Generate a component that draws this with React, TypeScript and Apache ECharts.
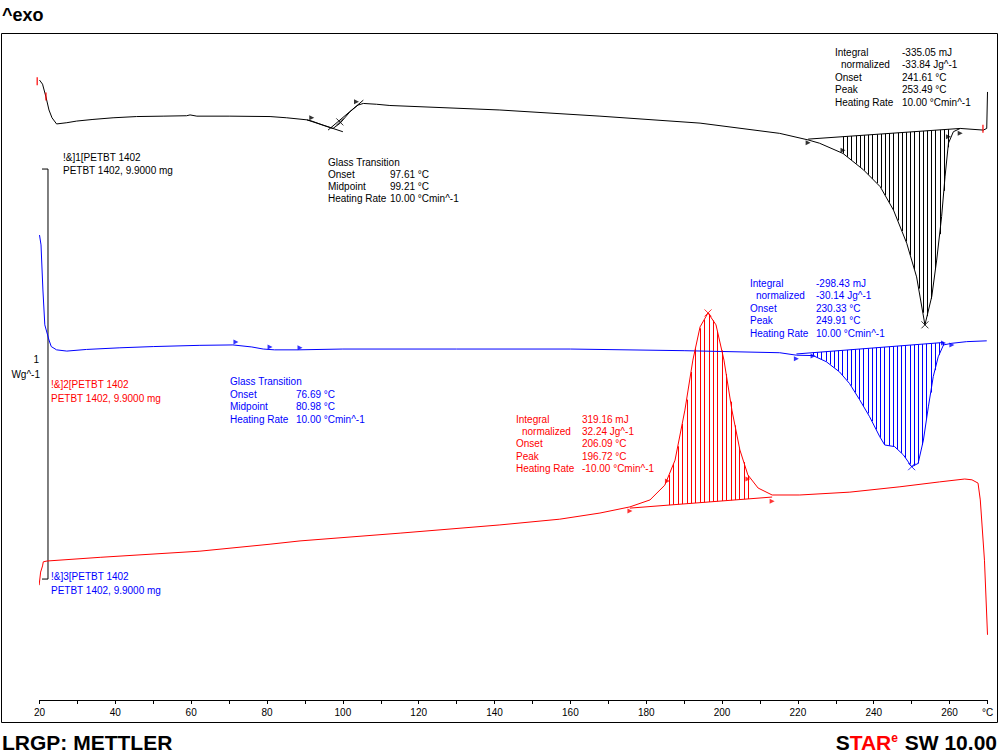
import React, { useEffect, useRef } from "react";
import * as echarts from "echarts";

// ---------- data (temperature °C, displayed signal W/g with curve offsets) ----------
const tempTicks = [20, 40, 60, 80, 100, 120, 140, 160, 180, 200, 220, 240, 260];

const curve1 = [
  [20.0, 1.512], [20.8, 1.502], [21.7, 1.471], [22.5, 1.439], [23.3, 1.42], [24.5, 1.405],
  [27.2, 1.408], [29.8, 1.412], [34.1, 1.416], [39.4, 1.42], [45.6, 1.423], [52.6, 1.424],
  [58.8, 1.425], [59.7, 1.427], [61.5, 1.424], [70.2, 1.424], [80.8, 1.423], [85.2, 1.42],
  [90.5, 1.415], [91.8, 1.412], [94.8, 1.402], [97.4, 1.394], [99.3, 1.407], [101.9, 1.435],
  [104.0, 1.451], [105.4, 1.455], [108.9, 1.453], [112.4, 1.45], [141.4, 1.439], [167.8, 1.424],
  [194.2, 1.407], [215.2, 1.382], [222.7, 1.366], [225.7, 1.358], [231.9, 1.333], [237.3, 1.293],
  [241.7, 1.252], [245.2, 1.195], [248.7, 1.114], [251.3, 1.032], [253.5, 0.915], [255.3, 0.984],
  [256.6, 1.073], [257.9, 1.179], [258.8, 1.276], [259.7, 1.358], [261.0, 1.386], [262.8, 1.394],
  [268.9, 1.39], [269.8, 1.394], [270.0, 1.483],
];
const curve2 = [
  [20.0, 1.134], [20.4, 1.11], [20.9, 1.0], [21.4, 0.915], [22.5, 0.878], [23.1, 0.862],
  [24.5, 0.854], [27.2, 0.851], [32.4, 0.855], [41.2, 0.859], [50.0, 0.862], [62.3, 0.865],
  [71.0, 0.866], [76.0, 0.861], [79.0, 0.856], [82.0, 0.854], [88.0, 0.854], [100.0, 0.856],
  [130.0, 0.856], [160.0, 0.856], [190.0, 0.852], [215.2, 0.847], [219.6, 0.841], [224.0, 0.84],
  [227.5, 0.825], [231.0, 0.8], [233.6, 0.772], [236.3, 0.732], [238.9, 0.691], [241.6, 0.642],
  [242.9, 0.622], [245.5, 0.618], [247.8, 0.598], [250.0, 0.569], [251.7, 0.577], [253.1, 0.634],
  [254.4, 0.715], [255.7, 0.789], [257.0, 0.837], [258.4, 0.866], [260.6, 0.87], [264.5, 0.874],
  [269.8, 0.876],
];
const curve3 = [
  [19.9, 0.28], [20.3, 0.312], [20.8, 0.327], [21.0, 0.337], [22.0, 0.339], [36.0, 0.348],
  [62.3, 0.363], [80.8, 0.38], [88.7, 0.388], [115.1, 0.407], [141.4, 0.427], [157.2, 0.441],
  [167.8, 0.456], [175.7, 0.471], [181.0, 0.488], [184.9, 0.524], [187.6, 0.585], [190.2, 0.707],
  [192.3, 0.829], [194.2, 0.91], [196.3, 0.944], [198.4, 0.915], [200.5, 0.829], [202.6, 0.707],
  [204.7, 0.61], [206.8, 0.549], [209.5, 0.517], [213.2, 0.5], [220.5, 0.5], [233.7, 0.507],
  [246.9, 0.52], [257.4, 0.532], [264.0, 0.539], [265.9, 0.537], [267.5, 0.529], [268.1, 0.488],
  [269.2, 0.341], [270.0, 0.159],
];

const baseline1 = [[222.7, 1.368], [262.8, 1.394]];
const baseline2 = [[219.6, 0.844], [258.4, 0.872]];
const baseline3 = [[175.7, 0.468], [213.2, 0.495]];

const hatchRange1 = [231.9, 259.7];
const hatchRange2 = [224.0, 258.4];
const hatchRange3 = [186.0, 207.6];

const tangent1a = [[90.5, 1.415], [100.0, 1.386]];
const tangent1b = [[96.1, 1.39], [105.4, 1.463]];

const marks1 = [[91.8, 1.42], [103.6, 1.459], [222.7, 1.359], [231.9, 1.341], [259.7, 1.374], [262.8, 1.382]];
const marks2 = [[71.8, 0.873], [80.8, 0.861], [88.7, 0.859], [219.6, 0.832], [224.0, 0.839], [258.4, 0.871], [260.6, 0.866]];
const marks3 = [[175.7, 0.461], [185.6, 0.534], [206.8, 0.539], [213.2, 0.485]];
const cross1 = [[99.2, 1.41], [253.5, 0.915]];
const cross2 = [[250.0, 0.569]];
const cross3 = [[196.3, 0.944]];
const limitMarks = [[19.4, 1.509], [21.7, 1.472], [268.8, 1.393]];

// scale bar: 1 W/g
const scaleBar = [[20.66, 1.295], [22.24, 1.295], [22.24, 0.295], [20.66, 0.295]];

// ---------- texts ----------
const peak1Rows = [["Integral", "-335.05 mJ"], ["normalized", "-33.84 Jg^-1"], ["Onset", "241.61 °C"], ["Peak", "253.49 °C"], ["Heating Rate", "10.00 °Cmin^-1"]];
const peak2Rows = [["Integral", "-298.43 mJ"], ["normalized", "-30.14 Jg^-1"], ["Onset", "230.33 °C"], ["Peak", "249.91 °C"], ["Heating Rate", "10.00 °Cmin^-1"]];
const peak3Rows = [["Integral", "319.16 mJ"], ["normalized", "32.24 Jg^-1"], ["Onset", "206.09 °C"], ["Peak", "196.72 °C"], ["Heating Rate", "-10.00 °Cmin^-1"]];
const glass1Rows = [["Glass Transition", ""], ["Onset", "97.61 °C"], ["Midpoint", "99.21 °C"], ["Heating Rate", "10.00 °Cmin^-1"]];
const glass2Rows = [["Glass Transition", ""], ["Onset", "76.69 °C"], ["Midpoint", "80.98 °C"], ["Heating Rate", "10.00 °Cmin^-1"]];
const curveLabels = [
  ["!&]1[PETBT 1402", "PETBT 1402, 9.9000 mg"],
  ["!&]2[PETBT 1402", "PETBT 1402, 9.9000 mg"],
  ["!&]3[PETBT 1402", "PETBT 1402, 9.9000 mg"],
];

const BLACK = "#000000";
const BLUE = "#0000ff";
const RED = "#ff0000";
const FONT = "'Liberation Sans', Arial, sans-serif";

function txt(x: number, y: number, text: string, fill: string, size = 10, extra: any = {}) {
  return {
    type: "text",
    x,
    y,
    silent: true,
    style: { text, fill, font: `${size}px ${FONT}`, textVerticalAlign: "middle", ...extra },
  };
}

function block(rows: string[][], x: number, y0: number, dy: number, vx: number, color: string, indent = 6) {
  const els: any[] = [];
  rows.forEach((r, i) => {
    const lx = r[0] === "normalized" ? x + indent : x;
    els.push(txt(lx, y0 + i * dy, r[0], color));
    if (r[1]) els.push(txt(vx, y0 + i * dy, r[1], color));
  });
  return els;
}

function lineSeries(data: number[][], color: string, z = 3) {
  return {
    type: "line",
    data,
    symbol: "none",
    smooth: false,
    silent: true,
    z,
    lineStyle: { color, width: 1 },
  };
}

function hatchSeries(curve: number[][], base: number[][], range: number[], color: string, step: number) {
  return {
    type: "custom",
    coordinateSystem: "cartesian2d",
    silent: true,
    z: 2,
    data: [[range[0], base[0][1]]],
    renderItem: (_params: any, api: any) => {
      const pts = curve.map((p) => api.coord(p));
      const b0 = api.coord(base[0]);
      const b1 = api.coord(base[1]);
      const x0 = api.coord([range[0], 0])[0];
      const x1 = api.coord([range[1], 0])[0];
      const children: any[] = [];
      for (let x = x0; x <= x1 + 0.01; x += step) {
        let yc: number | null = null;
        for (let i = 0; i < pts.length - 1; i++) {
          const a = pts[i];
          const b = pts[i + 1];
          if (b[0] > a[0] && x >= a[0] && x <= b[0]) {
            yc = a[1] + ((b[1] - a[1]) * (x - a[0])) / (b[0] - a[0]);
            break;
          }
        }
        const yb = b0[1] + ((b1[1] - b0[1]) * (x - b0[0])) / (b1[0] - b0[0]);
        if (yc !== null) {
          const xr = Math.round(x) + 0.5;
          children.push({ type: "line", shape: { x1: xr, y1: yb, x2: xr, y2: yc }, style: { stroke: color, lineWidth: 1 } });
        }
      }
      return { type: "group", children };
    },
  };
}

function markSeries(data: number[][], color: string) {
  return {
    type: "scatter",
    data,
    symbol: "triangle",
    symbolSize: 5,
    symbolRotate: -90,
    silent: true,
    z: 4,
    itemStyle: { color },
  };
}

function crossSeries(data: number[][], color: string) {
  return {
    type: "scatter",
    data,
    symbol: "path://M0,0L10,10M10,0L0,10",
    symbolSize: 7,
    silent: true,
    z: 4,
    itemStyle: { color: "transparent", borderColor: color, borderWidth: 1 },
  };
}

export default function App() {
  const ref = useRef<HTMLDivElement>(null);
  useEffect(() => {
    document.body.style.margin = "0";
    if (!ref.current) return;
    const chart = echarts.init(ref.current, null, { renderer: "svg" });
    const graphic: any[] = [
      { type: "rect", shape: { x: 1.5, y: 33.5, width: 996, height: 689 }, style: { fill: "none", stroke: BLACK, lineWidth: 1 }, silent: true },
      txt(2, 15, "^exo", BLACK, 18, { font: `bold 18px ${FONT}` }),
      txt(2, 742, "LRGP: METTLER", BLACK, 21, { font: `bold 21px ${FONT}` }),
      {
        type: "text",
        x: 997,
        y: 742,
        silent: true,
        style: {
          text: "{b|S}{r|TAR}{sup|e}{b| SW 10.00}",
          textAlign: "right",
          textVerticalAlign: "middle",
          rich: {
            b: { font: `bold 21px ${FONT}`, fill: BLACK },
            r: { font: `bold 21px ${FONT}`, fill: RED },
            sup: { font: `bold 12px ${FONT}`, fill: RED, verticalAlign: "top", padding: [0, 1, 0, 0] },
          },
        },
      },
      txt(39, 359, "1", BLACK, 10, { textAlign: "right" }),
      txt(40, 374, "Wg^-1", BLACK, 10, { textAlign: "right" }),
      txt(63, 157, curveLabels[0][0], BLACK),
      txt(63, 170, curveLabels[0][1], BLACK),
      txt(51, 384, curveLabels[1][0], RED),
      txt(51, 398, curveLabels[1][1], RED),
      txt(51, 576, curveLabels[2][0], BLUE),
      txt(51, 590, curveLabels[2][1], BLUE),
      ...block(peak1Rows, 835, 52, 12.5, 902, BLACK),
      ...block(peak2Rows, 750, 283, 12.6, 816, BLUE),
      ...block(peak3Rows, 516, 419, 12.4, 582, RED),
      ...block(glass1Rows, 328, 162, 12.3, 390, BLACK),
      ...block(glass2Rows, 230, 381.5, 12.5, 296, BLUE),
    ];

    const option: any = {
      animation: false,
      grid: { left: 39.5, right: 12.5, top: 33, bottom: 55, containLabel: false },
      xAxis: {
        type: "value",
        min: 20,
        max: 270,
        interval: 10,
        axisLine: { lineStyle: { color: BLACK, width: 1 } },
        axisTick: { length: 4, lineStyle: { color: BLACK } },
        splitLine: { show: false },
        axisLabel: {
          color: BLACK,
          fontSize: 10,
          fontFamily: "'Liberation Sans Narrow', 'Liberation Sans', sans-serif",
          margin: 7,
          showMaxLabel: true,
          showMinLabel: true,
          formatter: (v: number) => (v === 270 ? "°C" : tempTicks.includes(v) ? String(v) : ""),
        },
      },
      yAxis: { type: "value", min: 0, max: 1.6268, show: false },
      series: [
        lineSeries(scaleBar, BLACK, 3),
        lineSeries(curve1, BLACK),
        lineSeries(curve2, BLUE),
        lineSeries(curve3, RED),
        lineSeries(baseline1, BLACK),
        lineSeries(baseline2, BLUE),
        lineSeries(baseline3, RED),
        lineSeries(tangent1a, BLACK),
        lineSeries(tangent1b, BLACK),
        hatchSeries(curve1, baseline1, hatchRange1, BLACK, 4.2),
        hatchSeries(curve2, baseline2, hatchRange2, BLUE, 4.2),
        hatchSeries(curve3, baseline3, hatchRange3, RED, 4.4),
        markSeries(marks1, BLACK),
        markSeries(marks2, BLUE),
        markSeries(marks3, RED),
        crossSeries(cross1, BLACK),
        crossSeries(cross2, BLUE),
        crossSeries(cross3, RED),
        {
          type: "scatter",
          data: limitMarks,
          symbol: "rect",
          symbolSize: [1.5, 8],
          silent: true,
          clip: false,
          z: 5,
          itemStyle: { color: RED },
        },
      ],
      graphic,
    };
    chart.setOption(option);
    return () => chart.dispose();
  }, []);
  return <div ref={ref} style={{ width: 1000, height: 755 }} />;
}
